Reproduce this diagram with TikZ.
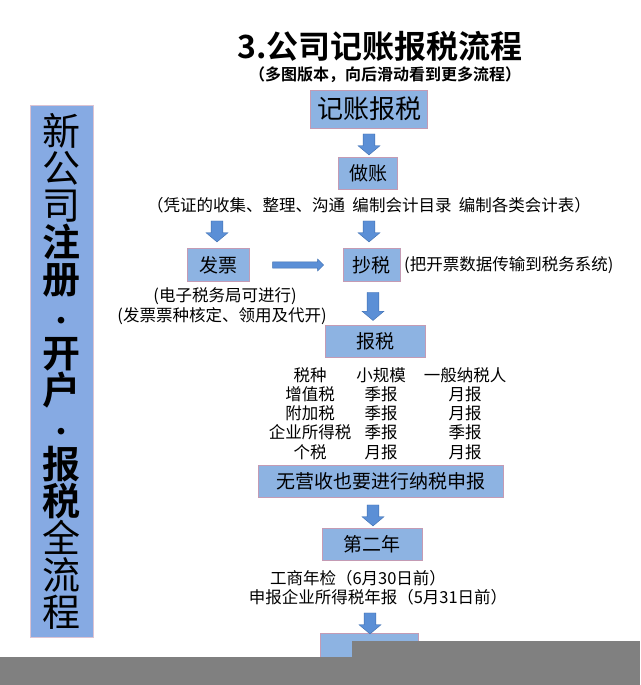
\documentclass[tikz,border=0pt]{standalone}
\usepackage{fontspec}
\newfontfamily\cjk{Noto Sans CJK SC}[BoldFont={Noto Sans CJK SC Bold}]
\usetikzlibrary{shapes.arrows,positioning}
\definecolor{boxblue}{HTML}{8DB3E2}
\definecolor{boxline}{HTML}{C49BB4}
\definecolor{arrblue}{HTML}{5B8FD6}
\definecolor{arrline}{HTML}{3F6FB0}
\definecolor{band}{HTML}{808080}
\tikzset{
    stepbox/.style={draw=boxline, line width=1pt, fill=boxblue, inner sep=0pt},
    downarrow/.style={single arrow, draw=arrline, fill=arrblue, shape border rotate=270,
        minimum width=22pt, single arrow head extend=5pt, single arrow tip angle=100,
        inner sep=5.5pt, minimum height=21pt},
    note/.style={font=\cjk\fontsize{16.5}{18}\selectfont, inner sep=0pt},
}
\begin{document}
\begin{tikzpicture}[x=1pt,y=-1pt]
    \useasboundingbox (0,0) rectangle (640,685);
    \fill[white] (0,0) rectangle (640,685);

    % side banner
    \node[draw=boxline!60, fill=boxblue!95!blue, minimum width=63pt, minimum height=532pt,
        inner sep=0pt] (side) at (61.5,371) {};
    \node[font=\cjk\fontsize{38}{38}\selectfont, align=center, inner sep=0pt] (sidetext) at (61.5,371)
        {新\\[-1pt]公\\[-1pt]司\\[-1pt]\textbf{注}\\[-1pt]\textbf{册}\\[-1pt]{\fontsize{26}{38}\selectfont\textbf{·}}\\[-1pt]\textbf{开}\\[-1pt]\textbf{户}\\[-1pt]{\fontsize{26}{38}\selectfont\textbf{·}}\\[-1pt]\textbf{报}\\[-1pt]\textbf{税}\\[-1pt]全\\[-1pt]流\\[-1pt]程};

    % heading
    \node[font=\cjk\bfseries\fontsize{32}{34}\selectfont] (title) at (380,46) {3.公司记账报税流程};
    \node[font=\cjk\bfseries\fontsize{16}{18}\selectfont] (subtitle) at (385,75) {（多图版本，向后滑动看到更多流程）};

    % steps
    \node[stepbox, minimum width=117pt, minimum height=38pt, font=\cjk\fontsize{26}{28}\selectfont] (jizhang) at (369,109) {记账报税};
    \node[stepbox, minimum width=59pt, minimum height=32pt, font=\cjk\fontsize{19}{21}\selectfont] (zuozhang) at (368,173) {做账};
    \node[note] (zuonote) at (369,205) {（凭证的收集、整理、沟通\ \ 编制会计目录\ \ 编制各类会计表）};
    \node[stepbox, minimum width=62pt, minimum height=33pt, font=\cjk\fontsize{19}{21}\selectfont] (fapiao) at (218,265) {发票};
    \node[stepbox, minimum width=57pt, minimum height=33pt, font=\cjk\fontsize{19}{21}\selectfont] (chaoshui) at (371.5,265) {抄税};
    \node[note, anchor=west] (chaonote) at (404,265) {(把开票数据传输到税务系统)};
    \node[note] (fanote1) at (225,296) {(电子税务局可进行)};
    \node[note] (fanote2) at (222,316) {(发票票种核定、领用及代开)};
    \node[stepbox, minimum width=100pt, minimum height=32pt, font=\cjk\fontsize{19}{21}\selectfont] (baoshui) at (375,341) {报税};

    % tax table
    \foreach \y/\a/\b/\c [count=\r] in {375/税种/小规模/一般纳税人, 394/增值税/季报/月报,
        413/附加税/季报/月报, 432/企业所得税/季报/季报, 452/个税/月报/月报} {
        \node[note] (t\r a) at (310,\y) {\a};
        \node[note] (t\r b) at (381,\y) {\b};
        \node[note] (t\r c) at (465,\y) {\c};
    }

    \node[stepbox, minimum width=245pt, minimum height=32pt, font=\cjk\fontsize{19}{21}\selectfont] (wuying) at (380.5,481) {无营收也要进行纳税申报};
    \node[stepbox, minimum width=100pt, minimum height=32pt, font=\cjk\fontsize{19}{21}\selectfont] (dier) at (372,544) {第二年};
    \node[note] (nian1) at (358,578) {工商年检（6月30日前）};
    \node[note] (nian2) at (378,597) {申报企业所得税年报（5月31日前）};
    \node[stepbox, minimum width=98pt, minimum height=40pt] (next) at (369,653) {};

    % arrows
    \node[downarrow] (a1) at (369,142) {};
    \node[downarrow] (a2) at (217,229) {};
    \node[downarrow] (a3) at (369,229) {};
    \node[downarrow, minimum height=28pt] (a4) at (373,304) {};
    \node[downarrow] (a5) at (373,513) {};
    \node[downarrow] (a6) at (370,621) {};
    \node[single arrow, draw=arrline, fill=arrblue, minimum width=12pt, minimum height=51pt,
        single arrow head extend=2.5pt, inner sep=2.5pt] (a7) at (296.5,265) {};

    % cover band
    \fill[band] (352,641) rectangle (640,657);
    \fill[band] (0,657) rectangle (640,685);
\end{tikzpicture}
\end{document}
